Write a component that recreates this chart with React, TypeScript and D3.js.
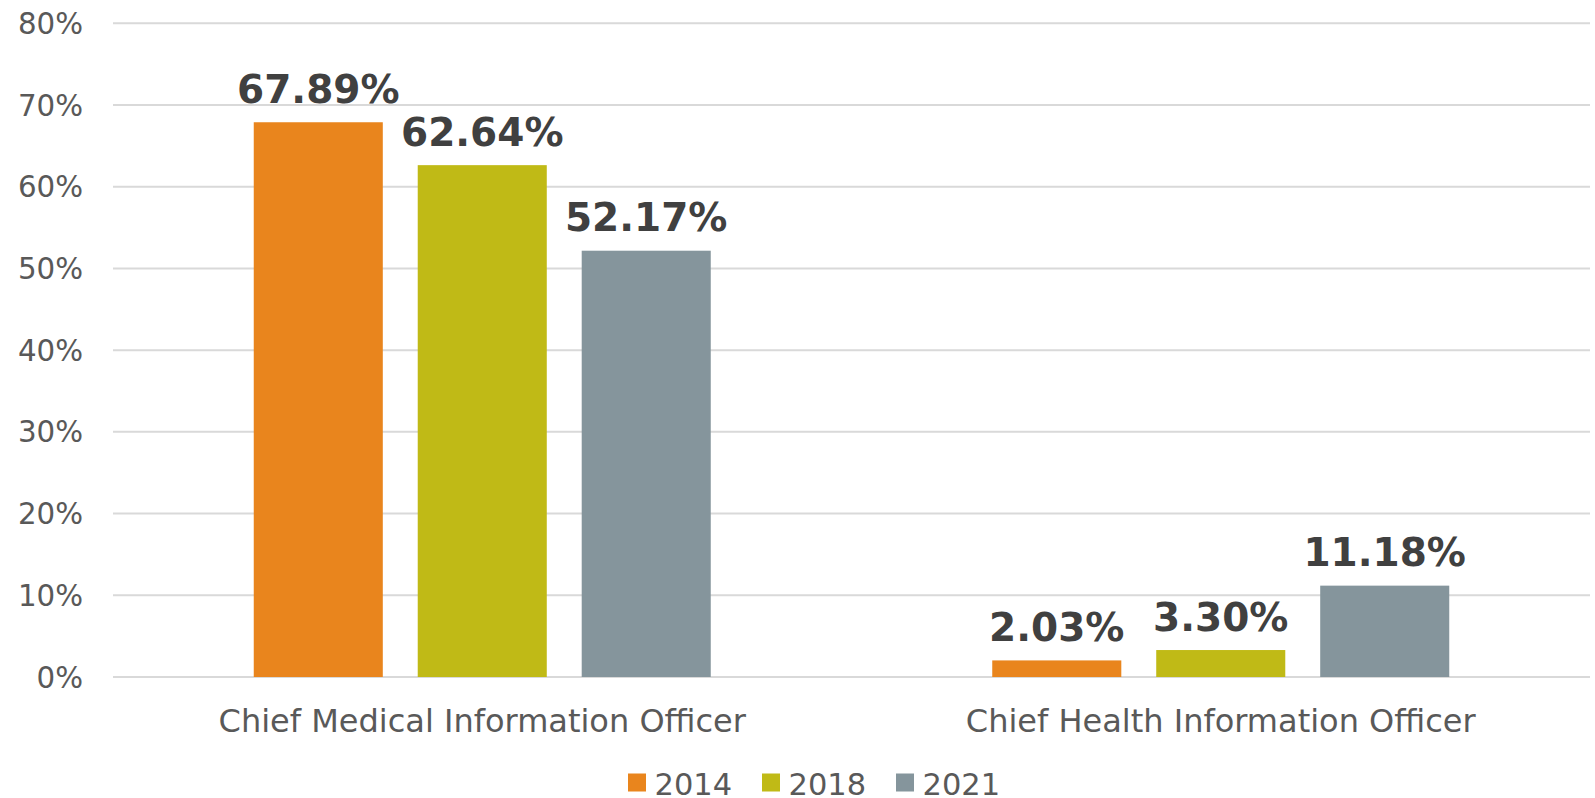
import React from "react";
import * as d3 from "d3";

const categories = ["Chief Medical Information Officer", "Chief Health Information Officer"];
const years = ["2014", "2018", "2021"];
const values2014 = [67.89, 2.03];
const values2018 = [62.64, 3.3];
const values2021 = [52.17, 11.18];
const yTicks = [0, 10, 20, 30, 40, 50, 60, 70, 80];
const colors = ["#E9851D", "#C0BA16", "#85959C"];

const W = 1595;
const H = 798;
const plotLeft = 113;
const plotRight = 1590;
const plotTop = 23.3;
const plotBottom = 677;

export default function App() {
  const series = [values2014, values2018, values2021];
  const y = d3.scaleLinear().domain([0, 80]).range([plotBottom, plotTop]);
  const x0 = d3.scaleBand<string>().domain(categories).range([plotLeft, plotRight]).padding(0);
  const groupW = 457;
  const x1 = d3
    .scaleBand<string>()
    .domain(years)
    .range([0, groupW])
    .paddingInner(0.213)
    .paddingOuter(0);
  const off = (x0.bandwidth() - groupW) / 2;
  const font = "'DejaVu Sans', Verdana, sans-serif";

  const legendX = [628, 762, 896];

  return (
    <svg
      width={W}
      height={H}
      style={{ position: "absolute", left: 0, top: 0, background: "#fff" }}
      fontFamily={font}
    >
      {yTicks.map((t) => (
        <g key={t}>
          <line x1={plotLeft} x2={plotRight} y1={y(t)} y2={y(t)} stroke="#D9D9D9" strokeWidth={2} />
          <text x={83} y={y(t) + 10.5} textAnchor="end" fontSize={29.3} fill="#595959">
            {t}%
          </text>
        </g>
      ))}
      {categories.map((c, ci) => (
        <g key={c}>
          {years.map((yr, si) => {
            const v = series[si][ci];
            const bx = (x0(c) as number) + off + (x1(yr) as number);
            const bw = x1.bandwidth();
            return (
              <g key={yr}>
                <rect x={bx} y={y(v)} width={bw} height={plotBottom - y(v)} fill={colors[si]} />
                <text
                  x={bx + bw / 2}
                  y={y(v) - 19.5}
                  textAnchor="middle"
                  fontSize={39}
                  fontWeight="bold"
                  fill="#404040"
                >
                  {v.toFixed(2)}%
                </text>
              </g>
            );
          })}
          <text
            x={(x0(c) as number) + x0.bandwidth() / 2}
            y={731.5}
            textAnchor="middle"
            fontSize={32}
            fill="#595959"
          >
            {c}
          </text>
        </g>
      ))}
      {years.map((yr, i) => (
        <g key={yr}>
          <rect x={legendX[i]} y={773.5} width={18} height={18} fill={colors[i]} />
          <text x={legendX[i] + 26.5} y={795} fontSize={30.5} fill="#595959">
            {yr}
          </text>
        </g>
      ))}
    </svg>
  );
}
